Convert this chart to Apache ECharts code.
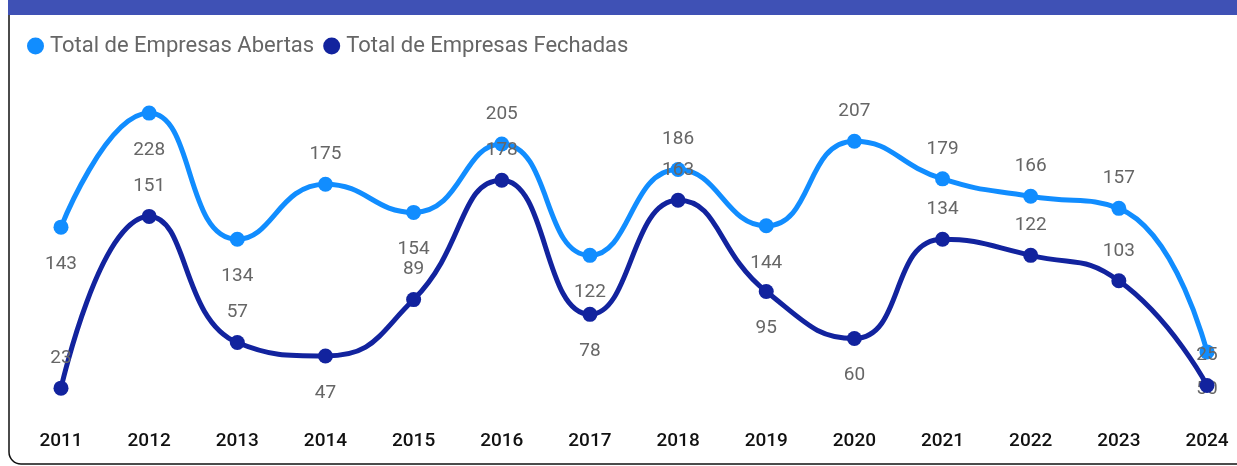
<!DOCTYPE html>
<html>
<head>
<meta charset="utf-8">
<script src="https://cdn.jsdelivr.net/npm/echarts@6/dist/echarts.min.js"></script>
<style>
  html, body { margin: 0; padding: 0; background: #fff; }
  #main { width: 1237px; height: 466px; }
</style>
</head>
<body>
<div id="main"></div>
<script>
// dados
var anos = ['2011', '2012', '2013', '2014', '2015', '2016', '2017', '2018', '2019', '2020', '2021', '2022', '2023', '2024'];
var abertas = [143, 228, 134, 175, 154, 205, 122, 186, 144, 207, 179, 166, 157, 50];
var fechadas = [23, 151, 57, 47, 89, 178, 78, 163, 95, 60, 134, 122, 103, 25];

// posição dos rótulos (acima / abaixo do ponto)
var posAbertas = ['bottom', 'bottom', 'bottom', 'top', 'bottom', 'top', 'bottom', 'top', 'bottom', 'top', 'top', 'top', 'top', 'bottom'];
var posFechadas = ['top', 'top', 'top', 'bottom', 'top', 'top', 'bottom', 'top', 'bottom', 'bottom', 'top', 'top', 'top', 'top'];

var corAbertas = '#118DFF';
var corFechadas = '#12239E';

function pontos(valores, pos) {
    return valores.map(function (v, i) {
        return { value: v, label: { position: pos[i], distance: pos[i] == 'bottom' ? 20 : 13 } };
    });
}

var myChart = echarts.init(document.getElementById('main'));

var option = {
    animation: false,
    textStyle: { fontFamily: 'Roboto' },
    graphic: [
        {
            type: 'rect',
            shape: { x: 9, y: -20, width: 1300, height: 484, r: 12 },
            style: { fill: 'none', stroke: '#111', lineWidth: 1.5 },
            z: 0
        },
        {
            type: 'rect',
            shape: { x: 8, y: 0, width: 1240, height: 15 },
            style: { fill: '#3F51B5' },
            z: 1
        }
    ],
    legend: {
        left: 22,
        top: 30,
        icon: 'circle',
        itemWidth: 17,
        itemHeight: 17,
        itemGap: 9,
        textStyle: { color: '#666', fontSize: 22, padding: [0, 0, 0, 1] },
        data: ['Total de Empresas Abertas', 'Total de Empresas Fechadas']
    },
    grid: {
        left: 61,
        right: 30,
        top: 83.6,
        bottom: 47
    },
    xAxis: {
        type: 'category',
        data: anos,
        boundaryGap: false,
        axisLine: { show: false },
        axisTick: { show: false },
        axisLabel: { color: '#111', fontSize: 19, fontWeight: 500, margin: 13 }
    },
    yAxis: {
        type: 'value',
        min: 0,
        max: 250,
        show: false
    },
    series: [
        {
            name: 'Total de Empresas Abertas',
            type: 'line',
            smooth: 0.5,
            data: pontos(abertas, posAbertas),
            symbol: 'circle',
            symbolSize: 15,
            lineStyle: { width: 5, color: corAbertas },
            itemStyle: { color: corAbertas },
            label: { show: true, color: '#666', fontSize: 19 },
            z: 2
        },
        {
            name: 'Total de Empresas Fechadas',
            type: 'line',
            smooth: 0.5,
            data: pontos(fechadas, posFechadas),
            symbol: 'circle',
            symbolSize: 15,
            lineStyle: { width: 5, color: corFechadas },
            itemStyle: { color: corFechadas },
            label: { show: true, color: '#666', fontSize: 19 },
            z: 3
        }
    ]
};

myChart.setOption(option);
</script>
</body>
</html>
